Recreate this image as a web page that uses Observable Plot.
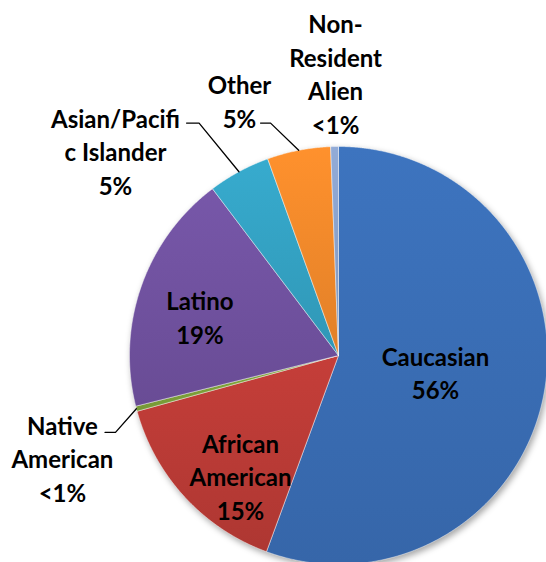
<!DOCTYPE html>
<html><head><meta charset="utf-8">
<script src="https://cdn.jsdelivr.net/npm/d3@7"></script>
<script src="https://cdn.jsdelivr.net/npm/@observablehq/plot@0.6"></script>
<style>body{margin:0;background:#fff}#chart svg{display:block}</style>
</head><body><div id="chart"></div>
<script>
// ---- data ----
const categories = ["Caucasian","African American","Native American","Latino","Asian/Pacific Islander","Other","Non-Resident Alien"];
const shares = [55.6, 15.1, 0.4, 18.6, 4.8, 4.9, 0.6];
const labelNames = ["Caucasian","African\nAmerican","Native\nAmerican","Latino","Asian/Pacifi\nc Islander","Other","Non-\nResident\nAlien"];

// ---- style / layout ----
const sliceColors = ["#3a6eb5","#bb3b36","#7fa33a","#7152a0","#34a2c3","#f2892b","#8aa2cc"];
const W = 546, H = 562, cx = 338, cy = 355, R = 209;
// label centres, in pie-radius units relative to the centre (y up)
const labelXY = [[0.464,-0.077],[-0.469,-0.574],[-1.321,-0.488],[-0.663,0.189],[-1.067,0.981],[-0.474,1.222],[-0.014,1.352]];
// leader lines: [startX, startY, elbowX] in radius units
const leaderLayout = {2:[-1.117,-0.368,-1.067], 4:[-0.727,1.112,-0.667], 5:[-0.373,1.112,-0.325]};

// ---- geometry from data ----
const arcs = d3.pie().sort(null).startAngle(0).endAngle(2*Math.PI)(shares);
const slicePts = [];
arcs.forEach((a, i) => {
  const cat = categories[i];
  slicePts.push({cat, x: 0, y: 0});
  const n = Math.max(2, Math.ceil((a.endAngle - a.startAngle) / 0.005));
  for (let k = 0; k <= n; k++) {
    const t = a.startAngle + (a.endAngle - a.startAngle) * k / n;
    slicePts.push({cat, x: Math.sin(t), y: Math.cos(t)});
  }
  slicePts.push({cat, x: 0, y: 0});
});
const fmt = v => v < 1 ? "<1%" : Math.round(v) + "%";
const labels = categories.map((c, i) => ({cat: c, x: labelXY[i][0], y: labelXY[i][1], text: labelNames[i] + "\n" + fmt(shares[i])}));
const leaderPts = [];
Object.entries(leaderLayout).forEach(([i, [sx, sy, ex]]) => {
  const a = arcs[i], m = (a.startAngle + a.endAngle) / 2;
  const cat = categories[i];
  leaderPts.push({cat, x: sx, y: sy}, {cat, x: ex, y: sy}, {cat, x: Math.sin(m) * 1.0, y: Math.cos(m) * 1.0});
});

const chart = Plot.plot({
  width: W, height: H,
  margin: 0,
  x: {domain: [-cx / R, (W - cx) / R], range: [0, W], axis: null},
  y: {domain: [-(H - cy) / R, cy / R], range: [H, 0], axis: null},
  color: {domain: categories, range: categories.map((c, i) => `url(#slice-grad-${i})`)},
  marks: [
    Plot.line(slicePts, {x: "x", y: "y", z: "cat", fill: "cat", stroke: "#ffffff", strokeOpacity: 0.45, strokeWidth: 1, curve: "linear"}),
    Plot.line(leaderPts, {x: "x", y: "y", z: "cat", stroke: "#000", strokeWidth: 1.3}),
    Plot.text(labels, {x: "x", y: "y", text: "text", fontSize: 24, fontWeight: "bold", fontFamily: "Lato", lineHeight: 1.4, fill: "#000"})
  ]
});

// gradient defs for the slice fills
const svg = d3.select(chart);
const defs = svg.insert("defs", ":first-child");
sliceColors.forEach((c, i) => {
  const g = defs.append("linearGradient").attr("id", `slice-grad-${i}`).attr("x1", 0).attr("y1", 0).attr("x2", 0).attr("y2", 1);
  g.append("stop").attr("offset", "0%").attr("stop-color", d3.color(c).brighter(0.15).formatHex());
  g.append("stop").attr("offset", "100%").attr("stop-color", d3.color(c).darker(0.2).formatHex());
});
svg.select("g[aria-label='line']").style("filter", "drop-shadow(2px 3px 3px rgba(0,0,0,0.35))");
document.getElementById("chart").appendChild(chart);
</script>
</body></html>
